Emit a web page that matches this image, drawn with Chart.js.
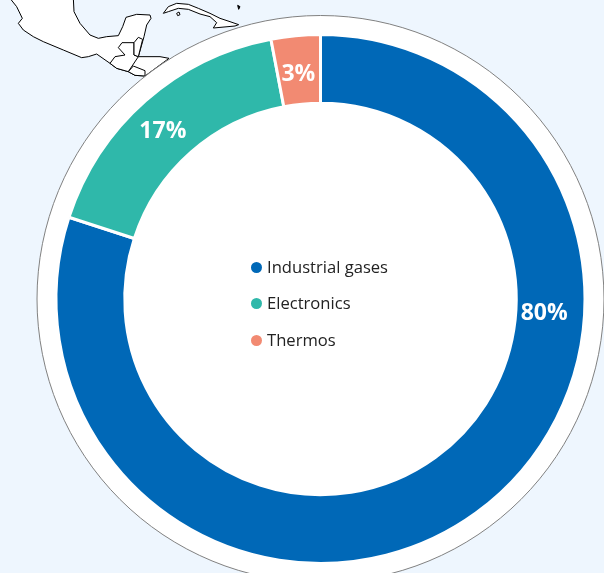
<!DOCTYPE html>
<html lang="en">
<head>
<meta charset="UTF-8">
<title>Sales by segment</title>
<script src="https://cdn.jsdelivr.net/npm/chart.js"></script>
<style>
    html, body { margin: 0; padding: 0; background: #eef6fe; overflow: hidden; }
    #wrap { position: relative; width: 604px; height: 573px; }
    #map { position: absolute; left: 0; top: 0; }
    #map path { fill: #fff; stroke: #000; stroke-width: 3; stroke-linejoin: round; }
    canvas { position: absolute; left: 0; top: 0; }
    #legend { position: absolute; left: 251px; top: 248.5px; font: 16.6px "Open Sans", sans-serif; color: #222; }
    #legend div { height: 36.5px; line-height: 36.5px; white-space: nowrap; }
    #legend i { display: inline-block; width: 11px; height: 11px; border-radius: 50%; margin-right: 5px; }
</style>
</head>
<body>
<div id="wrap">
    <!-- background map, just decoration behind the ring -->
    <svg id="map" width="604" height="573" viewBox="0 0 1812 1719">
        <path d="M30,-5 L50,20 L67,55 L55,70 L70,90 L100,110 L130,125 L190,150 L245,173 L265,170 L290,162 L330,190 L350,205 L385,215 L405,226 L435,228 L507,175 L480,170 L415,170 L432,110 L440,75 L453,55 L450,45 L410,43 L378,52 L368,80 L355,107 L320,110 L295,115 L270,105 L240,70 L222,35 L220,-5 Z"/>
        <path d="M330,190 L345,170 L375,165 L355,143 L366,128 L402,128 L402,165 L415,170 L385,215 L350,205 Z"/>
        <path d="M402,128 L415,112 L428,118 L415,170 L402,165 Z"/>
        <path d="M385,215 L400,198 L435,212 L435,228 L405,226 Z"/>
        <path d="M490,40 L505,20 L530,10 L565,13 L595,25 L630,40 L660,55 L690,65 L716,74 L705,78 L640,84 L650,68 L630,50 L600,42 L565,28 L535,25 L505,35 Z"/>
        <path d="M530,40 L537,36 L540,44 L533,47 Z"/>
        <path d="M713,16 L720,20 L716,28 Z" style="fill:#000"/>
    </svg>
    <canvas id="chart" width="604" height="573"></canvas>
    <div id="legend"></div>
</div>
<script>
    const categories = ['Industrial gases', 'Electronics', 'Thermos'];
    const shares = [80, 17, 3];
    const pctLabels = ['80%', '17%', '3%'];
    const colours = ['#0068b7', '#2fb8aa', '#f28a72'];

    // legend in the hole
    document.getElementById('legend').innerHTML = categories.map((c, i) =>
        '<div><i style="background:' + colours[i] + '"></i>' + c + '</div>').join('');

    // white disc with thin grey outline behind the doughnut
    const ringPlugin = {
        id: 'ring',
        beforeDatasetsDraw(chart) {
            const arc = chart.getDatasetMeta(0).data[0];
            const c = chart.ctx;
            c.save();
            c.beginPath();
            c.arc(arc.x, arc.y, arc.outerRadius + 19, 0, Math.PI * 2);
            c.fillStyle = '#fff';
            c.fill();
            c.strokeStyle = '#808080';
            c.lineWidth = 1;
            c.stroke();
            c.restore();
        }
    };

    // the 80% label sits on the right side, not at mid arc
    const labelAngles = [93.5, 317, -5.6];
    const labelShift = [-6, 1, -3];
    const labelPlugin = {
        id: 'pct',
        afterDatasetsDraw(chart) {
            const arc = chart.getDatasetMeta(0).data[0];
            const mid = (arc.outerRadius + arc.innerRadius) / 2;
            const c = chart.ctx;
            c.save();
            c.font = 'bold 23px "Open Sans", sans-serif';
            c.fillStyle = '#fff';
            c.textAlign = 'center';
            c.textBaseline = 'middle';
            pctLabels.forEach((t, i) => {
                const a = labelAngles[i] * Math.PI / 180;
                const r = mid + labelShift[i];
                c.fillText(t, arc.x + r * Math.sin(a), arc.y - r * Math.cos(a) + 1);
            });
            c.restore();
        }
    };

    new Chart(document.getElementById('chart'), {
        type: 'doughnut',
        data: {
            labels: categories,
            datasets: [{
                data: shares,
                backgroundColor: colours,
                borderColor: '#fff',
                borderWidth: 3
            }]
        },
        options: {
            responsive: false,
            animation: false,
            cutout: '74%',
            layout: { padding: { left: 54.5, right: 17.5, top: 33, bottom: 8 } },
            plugins: { legend: { display: false }, tooltip: { enabled: false } }
        },
        plugins: [ringPlugin, labelPlugin]
    });
</script>
</body>
</html>
